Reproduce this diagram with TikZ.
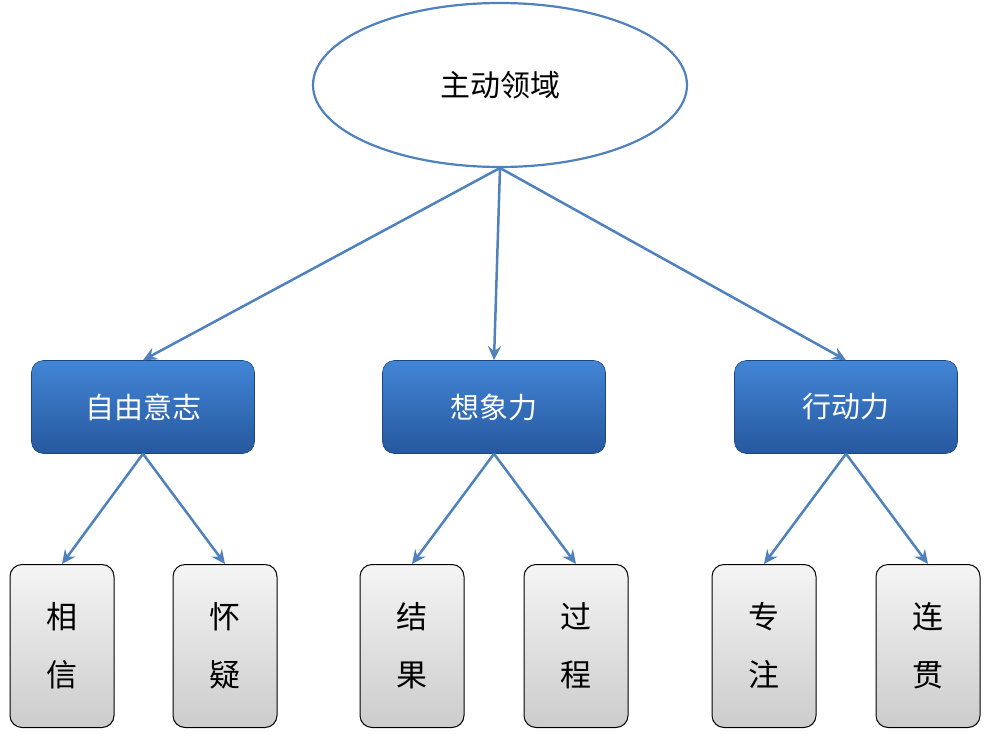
\documentclass[tikz,border=0pt]{standalone}
\usepackage{fontspec}
\newfontfamily\cjk{Noto Sans CJK SC}
\usetikzlibrary{shapes.geometric}
\usetikzlibrary{arrows.meta}
\definecolor{linkblue}{RGB}{79,129,189}
\definecolor{boxtop}{RGB}{66,133,214}
\definecolor{boxbot}{RGB}{38,88,158}
\tikzset{
    rootnode/.style = {ellipse, draw=linkblue, line width=2.2pt, fill=white, minimum width=374pt, minimum height=164pt, font=\cjk\fontsize{30}{30}\selectfont},
    midnode/.style = {rectangle, rounded corners=12pt, draw=boxbot!80!black, line width=0.6pt, top color=boxtop, bottom color=boxbot, text=white, minimum width=223pt, minimum height=93pt, font=\cjk\fontsize{29}{29}\selectfont},
    leafnode/.style = {rectangle, rounded corners=12pt, draw=black, line width=1pt, top color=gray!8, bottom color=gray!40, minimum width=104pt, minimum height=163pt, align=center, font=\cjk\fontsize{31}{58}\selectfont},
    edgen/.style = {-{Stealth[length=14pt,width=13pt,inset=5pt]}, line width=2.5pt, linkblue}
}
\begin{document}
\begin{tikzpicture}[x=1pt,y=-1pt]
  \useasboundingbox (0,0) rectangle (990,741);

  \node[rootnode] (root) at (500,85) {主动领域};

  \node[midnode] (will) at (143,407) {自由意志};
  \node[midnode] (imag) at (494,407) {想象力};
  \node[midnode] (act) at (846,407) {行动力};

  \node[leafnode] (trust) at (62,646) {相\\信};
  \node[leafnode] (doubt) at (225,646) {怀\\疑};
  \node[leafnode] (result) at (412,646) {结\\果};
  \node[leafnode] (process) at (576,646) {过\\程};
  \node[leafnode] (focus) at (764,646) {专\\注};
  \node[leafnode] (cont) at (928,646) {连\\贯};

  \coordinate (rb) at (500,168);
  \draw[edgen] (rb) -- (will.north);
  \draw[edgen] (rb) -- (imag.north);
  \draw[edgen] (rb) -- (act.north);

  \draw[edgen] (will.south) -- (trust.north);
  \draw[edgen] (will.south) -- (doubt.north);
  \draw[edgen] (imag.south) -- (result.north);
  \draw[edgen] (imag.south) -- (process.north);
  \draw[edgen] (act.south) -- (focus.north);
  \draw[edgen] (act.south) -- (cont.north);
\end{tikzpicture}
\end{document}
